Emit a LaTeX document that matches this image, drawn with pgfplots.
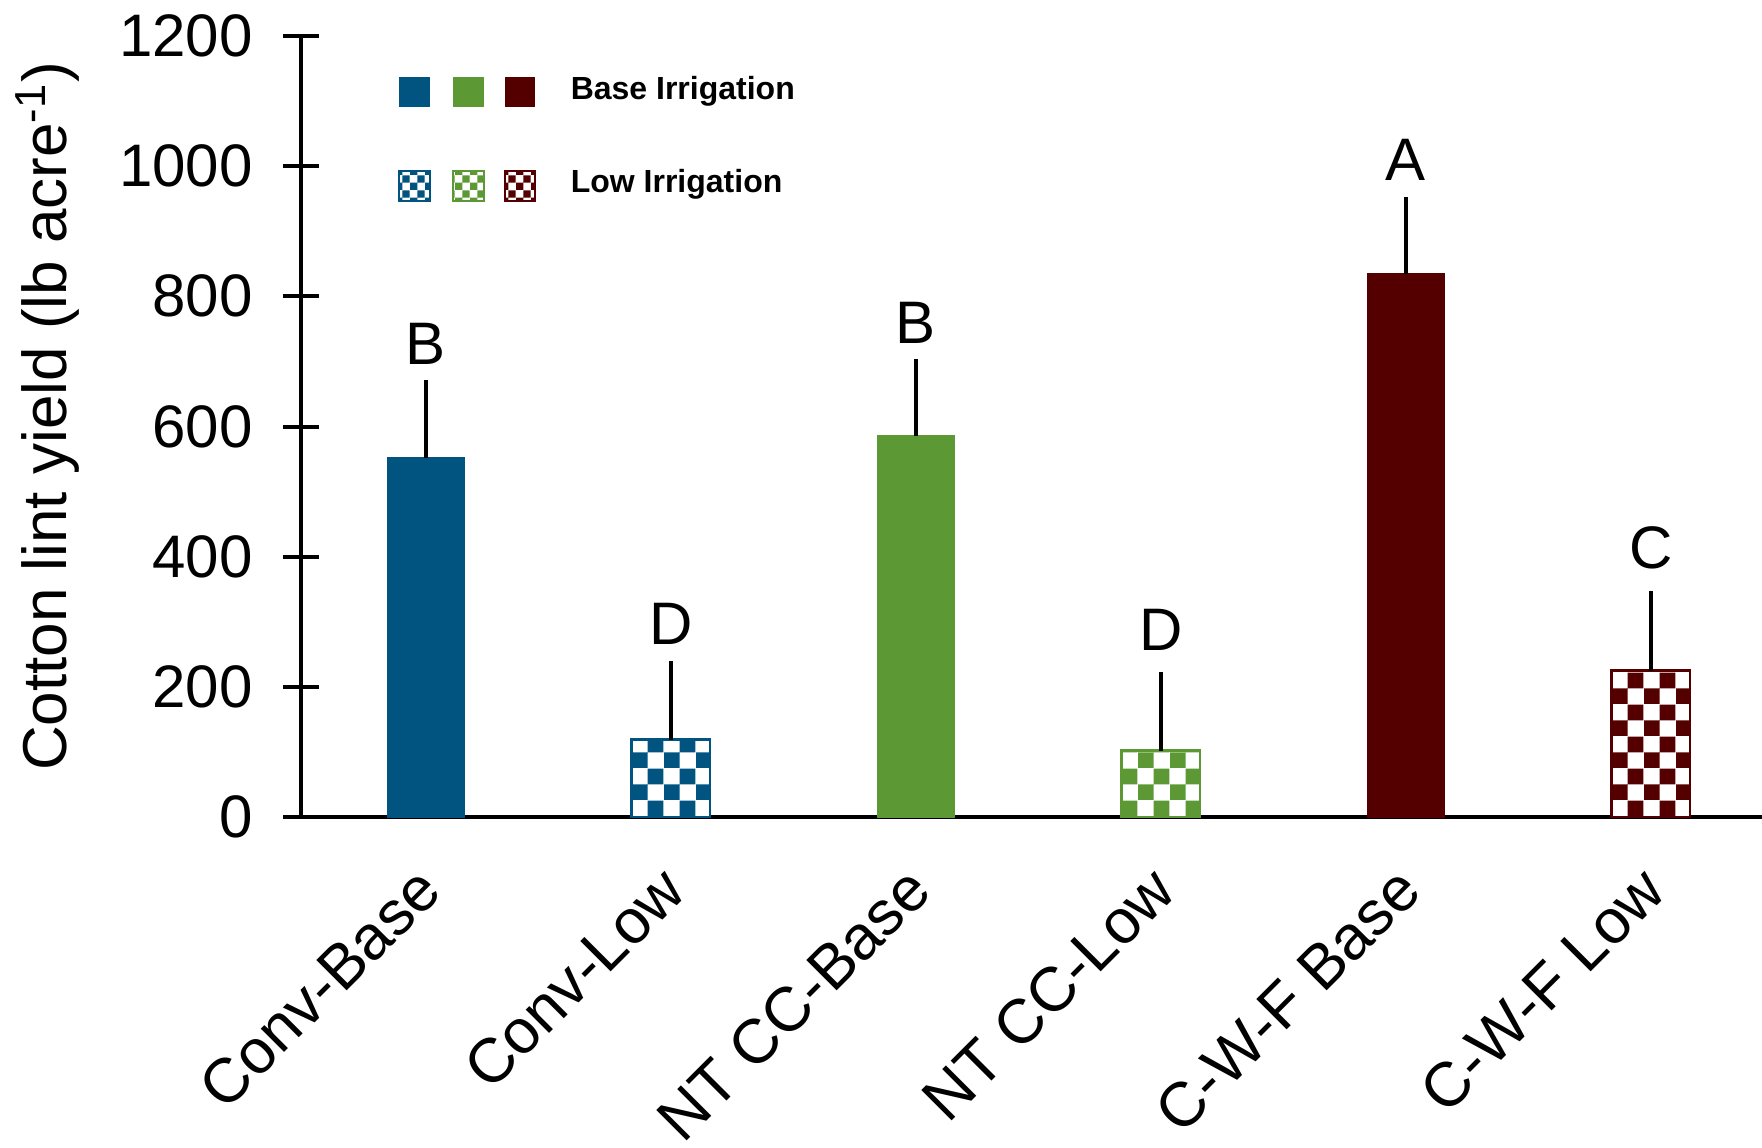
\documentclass[border=0pt]{standalone}
\usepackage{fontspec}
\setmainfont{Liberation Sans}
\usepackage{pgfplots}
\pgfplotsset{compat=1.18}
\usetikzlibrary{patterns}
\definecolor{cblue}{RGB}{0,84,127}
\definecolor{cgreen}{RGB}{92,153,52}
\definecolor{cred}{RGB}{85,0,0}
\pgfdeclarepatternformonly{checkL}{\pgfpointorigin}{\pgfqpoint{7.9pt}{7.9pt}}{\pgfqpoint{7.9pt}{7.9pt}}{%
  \pgfpathrectangle{\pgfpointorigin}{\pgfqpoint{3.95pt}{3.95pt}}%
  \pgfpathrectangle{\pgfqpoint{3.95pt}{3.95pt}}{\pgfqpoint{3.95pt}{3.95pt}}%
  \pgfusepath{fill}}
\pgfdeclarepatternformonly{checkS}{\pgfpointorigin}{\pgfqpoint{3.8pt}{3.8pt}}{\pgfqpoint{3.8pt}{3.8pt}}{%
  \pgfpathrectangle{\pgfpointorigin}{\pgfqpoint{1.9pt}{1.9pt}}%
  \pgfpathrectangle{\pgfqpoint{1.9pt}{1.9pt}}{\pgfqpoint{1.9pt}{1.9pt}}%
  \pgfusepath{fill}}
\newcommand{\bigf}{\fontsize{15}{18}\selectfont}
\begin{document}
\begin{tikzpicture}
\begin{axis}[
  at={(0,0)}, anchor=south west,
  scale only axis, width=365.2pt, height=195.25pt,
  xmin=-0.509, xmax=5.454, ymin=0, ymax=1200,
  axis x line=bottom, axis y line=left,
  axis line style={line width=1pt, -},
  xtick={0,...,5},
  xticklabels={Conv-Base, Conv-Low, NT CC-Base, NT CC-Low, C-W-F Base, C-W-F Low},
  x tick style={draw=none},
  xticklabel style={rotate=45, anchor=north east, font=\fontsize{15.6}{18}\selectfont, inner sep=0pt, yshift=-2.5pt, xshift=-7.1pt},
  ytick={0,200,...,1200},
  tick align=center, major tick length=9pt,
  y tick style={line width=1pt, black},
  yticklabel style={font=\bigf, xshift=-4.1pt},
  /pgf/number format/assume math mode=true,
  /pgf/number format/1000 sep={},
  ylabel={Cotton lint yield (lb acre\textsuperscript{-1})},
  every axis y label/.style={at={(axis description cs:-0.1739,0.513)}, rotate=90, anchor=center, font=\fontsize{15.5}{18}\selectfont},
  clip=false,
  error bars/error bar style={line width=0.9pt, black},
]
% base irrigation bars
\addplot[ybar, bar width=19.2pt, fill=cblue, draw=cblue,
  error bars/.cd, y dir=plus, y explicit, error mark=none]
  coordinates {(0,552) +- (0,119.5)};
\addplot[ybar, bar width=19.2pt, fill=cgreen, draw=cgreen,
  error bars/.cd, y dir=plus, y explicit, error mark=none]
  coordinates {(2,585) +- (0,119)};
\addplot[ybar, bar width=19.2pt, fill=cred, draw=cred,
  error bars/.cd, y dir=plus, y explicit, error mark=none]
  coordinates {(4,835) +- (0,118)};
% low irrigation bars
\addplot[ybar, bar width=19.6pt, fill=white, draw=cblue, line width=0.6pt,
  postaction={pattern=checkL, pattern color=cblue},
  error bars/.cd, y dir=plus, y explicit, error mark=none]
  coordinates {(1,119) +- (0,121)};
\addplot[ybar, bar width=19.6pt, fill=white, draw=cgreen, line width=0.6pt,
  postaction={pattern=checkL, pattern color=cgreen},
  error bars/.cd, y dir=plus, y explicit, error mark=none]
  coordinates {(3,102) +- (0,121)};
\addplot[ybar, bar width=19.6pt, fill=white, draw=cred, line width=0.6pt,
  postaction={pattern=checkL, pattern color=cred},
  error bars/.cd, y dir=plus, y explicit, error mark=none]
  coordinates {(5,225) +- (0,123)};
% significance letters
\node[anchor=south, inner sep=0pt, font=\bigf] at (axis cs:0,694) {B};
\node[anchor=south, inner sep=0pt, font=\bigf] at (axis cs:1,264) {D};
\node[anchor=south, inner sep=0pt, font=\bigf] at (axis cs:2,727) {B};
\node[anchor=south, inner sep=0pt, font=\bigf] at (axis cs:3,254) {D};
\node[anchor=south, inner sep=0pt, font=\bigf] at (axis cs:4,977) {A};
\node[anchor=south, inner sep=0pt, font=\bigf] at (axis cs:5,379) {C};
\end{axis}
% extension of x axis to the left of the y axis
\draw[line width=1pt] (-4.5pt,0) -- (0,0);
% legend
\fill[cblue] (24.5pt,177.5pt) rectangle ++(7.6pt,7.6pt);
\fill[cgreen] (38pt,177.5pt) rectangle ++(7.6pt,7.6pt);
\fill[cred] (50.9pt,177.5pt) rectangle ++(7.6pt,7.6pt);
\filldraw[draw=cblue, fill=white, line width=0.5pt, postaction={pattern=checkS, pattern color=cblue}] (24.5pt,154pt) rectangle ++(7.6pt,7.6pt);
\filldraw[draw=cgreen, fill=white, line width=0.5pt, postaction={pattern=checkS, pattern color=cgreen}] (38pt,154pt) rectangle ++(7.6pt,7.6pt);
\filldraw[draw=cred, fill=white, line width=0.5pt, postaction={pattern=checkS, pattern color=cred}] (50.9pt,154pt) rectangle ++(7.6pt,7.6pt);
\node[anchor=west, inner sep=0pt, font=\fontsize{8}{10}\selectfont\bfseries] at (67.2pt,181.5pt) {Base Irrigation};
\node[anchor=west, inner sep=0pt, font=\fontsize{8}{10}\selectfont\bfseries] at (67.2pt,158.2pt) {Low Irrigation};
\pgfresetboundingbox
\useasboundingbox (-75.3pt,-82.5pt) rectangle (365.2pt,204.25pt);
\end{tikzpicture}
\end{document}
